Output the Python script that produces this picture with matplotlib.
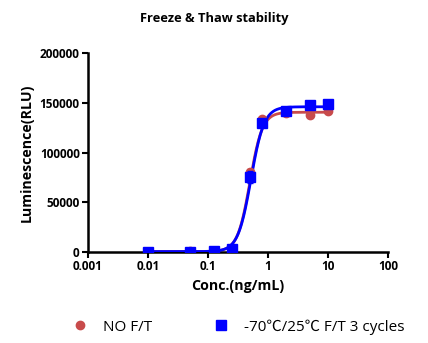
"""
Freeze & Thaw stability dose-response chart.
"""
import numpy as np
import matplotlib
matplotlib.use("Agg")
import matplotlib.pyplot as plt
from matplotlib.lines import Line2D
from matplotlib.ticker import FixedLocator, NullLocator

plt.rcParams["font.family"] = ["Open Sans", "Noto Sans CJK SC", "DejaVu Sans"]

conc = [0.01, 0.05, 0.125, 0.25, 0.5, 0.8, 2, 5, 10]
nft_mean = [500, 800, 500, 2500, 80000, 134000, 140000, 137500, 142000]
nft_sd = [300, 300, 300, 800, 3000, 1500, 1500, 1500, 1500]
ft_mean = [300, 400, 600, 3000, 75000, 130000, 142000, 148000, 148500]
ft_sd = [300, 300, 300, 800, 6000, 2500, 1500, 1500, 1500]

# 4PL fit parameters: bottom, top, EC50, hill
nft_fit = [500, 140500, 0.50, 4.2]
ft_fit = [400, 146000, 0.52, 4.0]

labels = ["NO F/T", "-70\u2103/25\u2103 F/T 3 cycles"]
red = "#C84B4B"
blue = "#0000FF"

def four_pl(x, p):
    b, t, ec, h = p
    return b + (t - b) / (1 + (ec / x) ** h)

fig = plt.figure(figsize=(4.28, 3.43), dpi=100)
ax = fig.add_axes([0.2056, 0.2653, 0.701, 0.580])

xs = np.logspace(-2, 1, 400)
ax.plot(xs, four_pl(xs, nft_fit), color=red, lw=2, zorder=2)
ax.plot(xs, four_pl(xs, ft_fit), color=blue, lw=2, zorder=3)
ax.errorbar(conc, nft_mean, yerr=nft_sd, fmt="o", color=red, ms=6,
            elinewidth=1, capsize=2, zorder=4)
ax.errorbar(conc, ft_mean, yerr=ft_sd, fmt="s", color=blue, ms=7,
            elinewidth=1, capsize=2, zorder=5)

ax.set_xscale("log")
ax.set_xlim(0.001, 100)
ax.set_ylim(0, 200000)
ax.xaxis.set_major_locator(FixedLocator([0.001, 0.01, 0.1, 1, 10, 100]))
ax.xaxis.set_minor_locator(NullLocator())
ax.set_xticklabels(["0.001", "0.01", "0.1", "1", "10", "100"])
ax.set_yticks([0, 50000, 100000, 150000, 200000])
ax.set_yticklabels(["0", "50000", "100000", "150000", "200000"])

for s in ["top", "right"]:
    ax.spines[s].set_visible(False)
for s in ["left", "bottom"]:
    ax.spines[s].set_linewidth(1.8)
ax.tick_params(width=1.5, length=4, labelsize=8.5, pad=2)
for lab in ax.get_xticklabels() + ax.get_yticklabels():
    lab.set_fontweight("bold")

ax.set_xlabel("Conc.(ng/mL)", fontsize=10.2, fontweight="bold", labelpad=4)
ax.set_ylabel("Luminescence(RLU)", fontsize=10.2, fontweight="bold", labelpad=4)
fig.text(0.5, 0.935, "Freeze & Thaw stability", ha="center", fontsize=9.3,
         fontweight="bold")

handles = [Line2D([], [], ls="none", marker="o", color=red, ms=6),
           Line2D([], [], ls="none", marker="s", color=blue, ms=7)]
fig.legend(handles, labels, loc="center left", bbox_to_anchor=(0.152, 0.047),
           ncol=2, frameon=False, fontsize=11, handlelength=2,
           handletextpad=0.5, columnspacing=3.5, borderpad=0, borderaxespad=0)

fig.savefig("out.png", dpi=100)
